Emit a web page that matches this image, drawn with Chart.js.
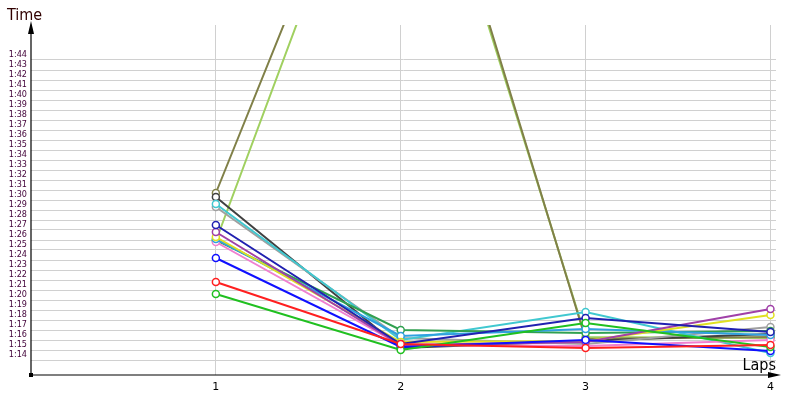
<!DOCTYPE html>
<html>
<head>
<meta charset="utf-8">
<script src="https://cdn.jsdelivr.net/npm/chart.js@4/dist/chart.umd.min.js"></script>
<style>
  html, body { margin: 0; padding: 0; background: #fff; }
  #wrap { width: 800px; height: 400px; }
</style>
</head>
<body>
<div id="wrap"><canvas id="lapChart" width="800" height="400"></canvas></div>
<script>
// laps on the x axis
const laps = [1, 2, 3, 4];
// y tick values in seconds (1:14 .. 1:44)
const timeTicks = [74,75,76,77,78,79,80,81,82,83,84,85,86,87,88,89,90,91,92,93,94,95,96,97,98,99,100,101,102,103,104];

// lap times in seconds, one array per driver
const redTimes       = [81.8, 75.6, 75.2, 75.5];
const greenTimes     = [80.6, 75.0, 77.7, 75.3];
const blueTimes      = [84.2, 75.3, 76.0, 74.9];
const indigoTimes    = [87.5, 75.6, 78.2, 76.8];
const purpleTimes    = [86.8, 75.5, 75.8, 79.1];
const yellowTimes    = [86.3, 75.8, 75.9, 78.5];
const skyTimes       = [86.1, 76.4, 77.1, 76.5];
const pinkTimes      = [85.8, 75.5, 75.4, 76.0];
const seaGreenTimes  = [86.0, 77.0, 76.7, 76.9];
const cyanTimes      = [89.6, 76.0, 78.8, 74.7];
const grayTimes      = [89.3, 76.2, 75.6, 77.3];
const darkTimes      = [90.3, 75.2, 75.9, 76.6];
const oliveTimes     = [90.7, 136.5, 76.1, 76.3];
const limeTimes      = [85.9, 135.5, 76.3, 76.2];

const seriesList = [
    { data: redTimes, color: '#ff2020' },
    { data: greenTimes, color: '#20c020' },
    { data: blueTimes, color: '#1010ff' },
    { data: indigoTimes, color: '#2020b0' },
    { data: purpleTimes, color: '#a040a8' },
    { data: yellowTimes, color: '#e0e020' },
    { data: skyTimes, color: '#30a0e0' },
    { data: pinkTimes, color: '#f080d0' },
    { data: seaGreenTimes, color: '#30a050' },
    { data: cyanTimes, color: '#40c8d0' },
    { data: grayTimes, color: '#a0a0a0' },
    { data: darkTimes, color: '#404040' },
    { data: oliveTimes, color: '#808048' },
    { data: limeTimes, color: '#a0d060' }
];

// format seconds as m:ss
function fmtTime(v) {
    const m = Math.floor(v / 60);
    const s = Math.round(v - m * 60);
    return m + ':' + (s < 10 ? '0' + s : s);
}

const datasets = seriesList.map(s => ({
    data: s.data.map((v, i) => ({ x: laps[i], y: v })),
    borderColor: s.color,
    backgroundColor: '#ffffff',
    pointBackgroundColor: '#ffffff',
    pointBorderColor: s.color,
    pointBorderWidth: 1.5,
    pointRadius: 3.5,
    borderWidth: 2,
    tension: 0
}));

// draws the two axis lines with arrows and the titles
const axisPlugin = {
    id: 'axisArrows',
    afterDatasetsDraw(chart) {
        const c = chart.ctx;
        const x0 = 31, y0 = 375;
        c.save();
        c.strokeStyle = '#000';
        c.fillStyle = '#000';
        c.lineWidth = 1.2;
        c.beginPath();
        c.moveTo(x0, y0); c.lineTo(x0, 26);
        c.moveTo(x0, y0); c.lineTo(776, y0);
        c.stroke();
        // y arrow
        c.beginPath();
        c.moveTo(x0, 21); c.lineTo(x0 - 3, 34); c.lineTo(x0 + 3, 34); c.closePath(); c.fill();
        // x arrow
        c.beginPath();
        c.moveTo(781, y0); c.lineTo(768, y0 - 3); c.lineTo(768, y0 + 3); c.closePath(); c.fill();
        // origin square
        c.fillRect(x0 - 2, y0 - 2, 4, 4);
        c.font = '16px "DejaVu Sans Condensed"';
        c.fillStyle = '#300000';
        c.textBaseline = 'alphabetic';
        c.textAlign = 'left';
        c.fillText('Time', 7, 20);
        c.fillStyle = '#000';
        c.textAlign = 'right';
        c.fillText('Laps', 776, 370);
        c.restore();
    }
};

const ctx = document.getElementById('lapChart').getContext('2d');
const lapChart = new Chart(ctx, {
    type: 'line',
    data: { datasets: datasets },
    options: {
        responsive: false,
        animation: false,
        layout: { padding: { left: 0, top: 25, right: 24, bottom: 0 } },
        plugins: {
            legend: { display: false },
            tooltip: { enabled: false }
        },
        scales: {
            x: {
                type: 'linear',
                min: 0,
                max: 4.03,
                afterBuildTicks: (scale) => { scale.ticks = laps.map(v => ({ value: v })); },
                afterFit: (scale) => { scale.height = 25; },
                grid: { color: '#d0d0d0', drawTicks: false, lineWidth: 1 },
                border: { display: false },
                ticks: {
                    color: '#000',
                    font: { family: 'DejaVu Sans', size: 11 },
                    padding: 6,
                    maxRotation: 0,
                    autoSkip: false,
                    callback: (v) => String(v)
                }
            },
            y: {
                type: 'linear',
                min: 72.5,
                max: 107.5,
                afterBuildTicks: (scale) => { scale.ticks = timeTicks.map(v => ({ value: v })); },
                afterFit: (scale) => { scale.width = 31; },
                grid: { color: '#d0d0d0', drawTicks: false, lineWidth: 1 },
                border: { display: false },
                ticks: {
                    color: '#400038',
                    font: { family: 'DejaVu Sans Condensed', size: 9 },
                    padding: 4,
                    labelOffset: -5,
                    autoSkip: false,
                    callback: (v) => fmtTime(v)
                }
            }
        }
    },
    plugins: [axisPlugin]
});
</script>
</body>
</html>
